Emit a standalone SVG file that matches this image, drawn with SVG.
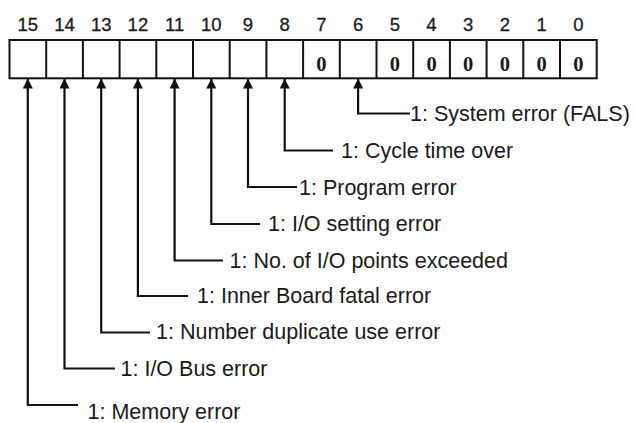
<svg xmlns="http://www.w3.org/2000/svg" width="635" height="423" viewBox="0 0 635 423">
<style>
.bitnum{font-family:"Liberation Sans",Arial,sans-serif;font-size:18.5px;fill:#1a1a1a;stroke:#1a1a1a;stroke-width:0.3;text-anchor:middle}
.zero{font-family:"Liberation Serif","Times New Roman",serif;font-size:20.5px;font-weight:bold;fill:#1a1a1a;text-anchor:middle}
.lbl{font-family:"Liberation Sans",Arial,sans-serif;font-size:21.5px;fill:#1a1a1a}
.cell{fill:#fff;stroke:#111;stroke-width:2}
.conn{fill:none;stroke:#111;stroke-width:2.2}
</style>
<defs>
<marker id="arr" viewBox="0 0 10 10" refX="10" refY="5" markerWidth="10" markerHeight="10" markerUnits="userSpaceOnUse" orient="auto">
<path d="M0,0 L10,5 L0,10 z" fill="#111"/>
</marker>
</defs>
<rect width="635" height="423" fill="#fff"/>
<g id="register">
<rect class="cell" x="9.5" y="40" width="587.2" height="38.3"/>
<path d="M46.2,40V78.3M82.9,40V78.3M119.6,40V78.3M156.3,40V78.3M193,40V78.3M229.7,40V78.3M266.4,40V78.3M303.1,40V78.3M339.8,40V78.3M376.5,40V78.3M413.2,40V78.3M449.9,40V78.3M486.6,40V78.3M523.3,40V78.3M560,40V78.3" stroke="#111" stroke-width="2" fill="none"/>
<g id="bitnums">
<text class="bitnum" x="27.8" y="30.5">15</text>
<text class="bitnum" x="64.5" y="30.5">14</text>
<text class="bitnum" x="101.2" y="30.5">13</text>
<text class="bitnum" x="137.9" y="30.5">12</text>
<text class="bitnum" x="174.6" y="30.5">11</text>
<text class="bitnum" x="211.3" y="30.5">10</text>
<text class="bitnum" x="248" y="30.5">9</text>
<text class="bitnum" x="284.7" y="30.5">8</text>
<text class="bitnum" x="321.4" y="30.5">7</text>
<text class="bitnum" x="358.1" y="30.5">6</text>
<text class="bitnum" x="394.8" y="30.5">5</text>
<text class="bitnum" x="431.5" y="30.5">4</text>
<text class="bitnum" x="468.2" y="30.5">3</text>
<text class="bitnum" x="504.9" y="30.5">2</text>
<text class="bitnum" x="541.6" y="30.5">1</text>
<text class="bitnum" x="578.3" y="30.5">0</text>
</g>
<g id="zeros">
<text class="zero" x="321.4" y="71">0</text>
<text class="zero" x="394.8" y="71">0</text>
<text class="zero" x="431.5" y="71">0</text>
<text class="zero" x="468.2" y="71">0</text>
<text class="zero" x="504.9" y="71">0</text>
<text class="zero" x="541.6" y="71">0</text>
<text class="zero" x="578.3" y="71">0</text>
</g>
</g>
<g id="connectors">
<path class="conn" marker-end="url(#arr)" d="M410,113.5H358.1V78.5"/>
<path class="conn" marker-end="url(#arr)" d="M333,150.5H284.7V78.5"/>
<path class="conn" marker-end="url(#arr)" d="M297,187H248V78.5"/>
<path class="conn" marker-end="url(#arr)" d="M260,224H211.3V78.5"/>
<path class="conn" marker-end="url(#arr)" d="M223,260.5H174.6V78.5"/>
<path class="conn" marker-end="url(#arr)" d="M188,296H137.9V78.5"/>
<path class="conn" marker-end="url(#arr)" d="M150,332.5H101.2V78.5"/>
<path class="conn" marker-end="url(#arr)" d="M115,368.5H64.5V78.5"/>
<path class="conn" marker-end="url(#arr)" d="M78,405H27.8V78.5"/>
</g>
<g id="bit6"><text class="lbl" x="410" y="121">1: System error (FALS)</text></g>
<g id="bit8"><text class="lbl" x="341" y="158">1: Cycle time over</text></g>
<g id="bit9"><text class="lbl" x="299" y="194.5">1: Program error</text></g>
<g id="bit10"><text class="lbl" x="268" y="231">1: I/O setting error</text></g>
<g id="bit11"><text class="lbl" x="229.5" y="267.5">1: No. of I/O points exceeded</text></g>
<g id="bit12"><text class="lbl" x="197" y="303">1: Inner Board fatal error</text></g>
<g id="bit13"><text class="lbl" x="156" y="339">1: Number duplicate use error</text></g>
<g id="bit14"><text class="lbl" x="120.5" y="375.5">1: I/O Bus error</text></g>
<g id="bit15"><text class="lbl" x="87.5" y="418.5">1: Memory error</text></g>
</svg>
